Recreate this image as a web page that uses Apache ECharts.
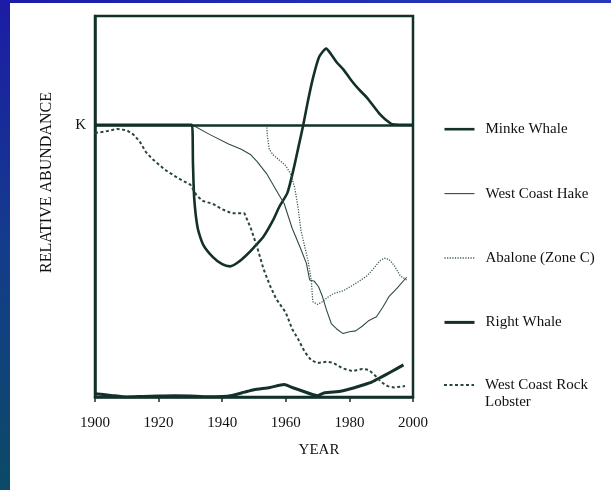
<!DOCTYPE html>
<html>
<head>
<meta charset="utf-8">
<script src="https://cdn.jsdelivr.net/npm/echarts@6/dist/echarts.min.js"></script>
<style>
html,body{margin:0;padding:0;background:#fff;}
#wrap{position:relative;width:611px;height:490px;overflow:hidden;background:#fff;}
#lstrip{position:absolute;left:0;top:0;width:10px;height:490px;background:linear-gradient(#1c1ca6,#143c8c 50%,#0c4a66);}
#tstrip{position:absolute;left:0;top:0;width:611px;height:3px;background:linear-gradient(90deg,#1c1ca6,#2230b4 60%,#2838b8);}
#chart{position:absolute;left:0;top:0;width:611px;height:490px;}
</style>
</head>
<body>
<div id="wrap">
<div id="chart"></div>
<div id="lstrip"></div>
<div id="tstrip"></div>
</div>
<script>
const xTicks = [1900, 1920, 1940, 1960, 1980, 2000];
const kLevel = 100;
const seriesNames = ['Minke Whale', 'West Coast Hake', 'Abalone (Zone C)', 'Right Whale', 'West Coast Rock Lobster'];

const minkeWhale = [[1900,100],[1930.5,100],[1930.8,86],[1931.2,73],[1932.3,62],[1934,56],[1937,51.5],[1940,48.8],[1942.5,48],[1945,49.5],[1947.5,52],[1950,55],[1953,59],[1956,65],[1958,70],[1960.5,75],[1962.5,84],[1964,92],[1965.5,100],[1967,109],[1968.5,117],[1970.5,125],[1972.7,128],[1974.5,125.5],[1976,123],[1978,120.5],[1980.5,116.5],[1983,113],[1985.5,110],[1987.5,107],[1989.5,104],[1991.5,101.8],[1993.5,100.2],[2000,100]];
const westCoastHake = [[1930.5,100],[1936,96.5],[1942,93],[1946,91],[1949,89],[1951,86.5],[1954,82],[1957,76],[1959.5,71],[1962,62],[1964.5,55],[1966.5,49],[1967.5,43],[1969,42.5],[1970.3,40.5],[1971.5,37],[1972.8,32],[1974.3,27],[1976,25],[1978,23.3],[1980,24],[1982,24.3],[1984,26],[1986,28],[1988.5,29.5],[1990.5,33],[1992.5,37],[1995,40],[1998,44]];
const abaloneZoneC = [[1954,100],[1954.2,96],[1954.8,91],[1956,89],[1958,87],[1960,85],[1961.5,82],[1962.8,77],[1963.8,70],[1964.8,61],[1966,55],[1967,50],[1968,43],[1968.5,35],[1970,34],[1971.5,35],[1973,36.5],[1975,38],[1978,39],[1981,41],[1983,42.5],[1985.5,44.5],[1987.5,47],[1989.5,50],[1991,51],[1992.5,50.5],[1994,48.5],[1996,44.5],[1998,43]];
const rightWhale = [[1900,1.2],[1905,0.6],[1910,0],[1915,0.2],[1920,0.4],[1925,0.5],[1930,0.4],[1935,0.1],[1940,0.2],[1943,0.6],[1947,1.8],[1950,2.7],[1955,3.5],[1959.5,4.6],[1962,3.5],[1965,2.3],[1970,0.5],[1972,1.5],[1975,1.8],[1978,2.3],[1981,3.2],[1984,4.3],[1987,5.5],[1990,7.3],[1993,9.2],[1997,11.8]];
const westCoastRockLobster = [[1900,97],[1903,97.5],[1907,98.5],[1910,98],[1912,96.5],[1914,94],[1916,90],[1918,87.5],[1922,83.5],[1926,80.5],[1930,78],[1932,74],[1934,72],[1937,71],[1940,69],[1943,67.5],[1947,67.5],[1949,62],[1951,55],[1953,47],[1955,41],[1957,36],[1960,31],[1962,25],[1964,21],[1966,16.5],[1968,13.5],[1970,12.5],[1973,13],[1975,12.5],[1978,10.5],[1981,9.5],[1984,10.3],[1986,10],[1988,8],[1990,5.5],[1992,4],[1994,3.5],[1997.5,4]];

const ink = '#13302a';
const font = 'Liberation Serif, Times New Roman, serif';

const legendCommon = {
  orient: 'vertical', left: 438,
  itemWidth: 30, itemHeight: 18, itemGap: 47.4,
  textStyle: {fontFamily: font, fontSize: 15, color: '#111', lineHeight: 17, padding: [0, 0, 0, 6]},
  lineStyle: {width: 'inherit'},
  itemStyle: {opacity: 0, borderWidth: 0},
  selectedMode: false
};

const chart = echarts.init(document.getElementById('chart'), null, {renderer: 'canvas'});
chart.setOption({
  animation: false,
  backgroundColor: 'transparent',
  textStyle: {fontFamily: font, color: '#111'},
  grid: {left: 95, right: 198, top: 16, bottom: 93, show: true, borderColor: ink, borderWidth: 2.5, backgroundColor: 'transparent'},
  xAxis: {
    type: 'value', min: xTicks[0], max: xTicks[xTicks.length - 1], interval: 20,
    name: 'YEAR', nameLocation: 'middle', nameGap: 46,
    nameTextStyle: {fontFamily: font, fontSize: 15, color: '#111', padding: [0, 0, 0, 130]},
    axisLine: {show: true, lineStyle: {color: ink, width: 2.5}},
    axisTick: {show: true, inside: false, length: 5, lineStyle: {color: ink, width: 1.5}},
    axisLabel: {fontFamily: font, fontSize: 15, color: '#111', margin: 19, formatter: v => String(v)},
    splitLine: {show: false}
  },
  yAxis: {
    type: 'value', min: 0, max: 140, interval: 100,
    name: 'RELATIVE ABUNDANCE', nameLocation: 'middle', nameGap: 40, nameRotate: 90,
    nameTextStyle: {fontFamily: font, fontSize: 16, color: '#111', padding: [0, 0, 0, 48]},
    axisLine: {show: true, lineStyle: {color: ink, width: 2.5}},
    axisTick: {show: false},
    axisLabel: {fontFamily: font, fontSize: 15, color: '#111', margin: 9, padding: [6, 0, 0, 0], formatter: v => (v === kLevel ? 'K' : '')},
    splitLine: {show: false}
  },
  legend: [
    Object.assign({}, legendCommon, {top: 115.7, data: seriesNames.slice(0, 4)}),
    Object.assign({}, legendCommon, {top: 354.5, data: [seriesNames[4]],
      formatter: n => '\nWest Coast Rock\nLobster'})
  ],
  series: [
    {name: seriesNames[0], type: 'line', data: minkeWhale, symbol: 'none', smooth: 0.2, itemStyle: {color: ink}, lineStyle: {color: ink, width: 2.6},
     markLine: {silent: true, symbol: 'none', label: {show: false}, lineStyle: {color: ink, width: 2.6, type: 'solid'}, data: [{yAxis: kLevel}]}},
    {name: seriesNames[1], type: 'line', data: westCoastHake, symbol: 'none', itemStyle: {color: '#2e4c44'}, lineStyle: {color: '#2e4c44', width: 1.1}},
    {name: seriesNames[2], type: 'line', data: abaloneZoneC, symbol: 'none', itemStyle: {color: '#3b5c52'}, lineStyle: {color: '#3b5c52', width: 1.3, type: [1.2, 1.4]}},
    {name: seriesNames[3], type: 'line', data: rightWhale, symbol: 'none', smooth: 0.2, itemStyle: {color: ink}, lineStyle: {color: ink, width: 3}},
    {name: seriesNames[4], type: 'line', data: westCoastRockLobster, symbol: 'none', itemStyle: {color: '#28463e'}, lineStyle: {color: '#28463e', width: 2, type: [3, 2.5]}}
  ]
});
</script>
</body>
</html>
